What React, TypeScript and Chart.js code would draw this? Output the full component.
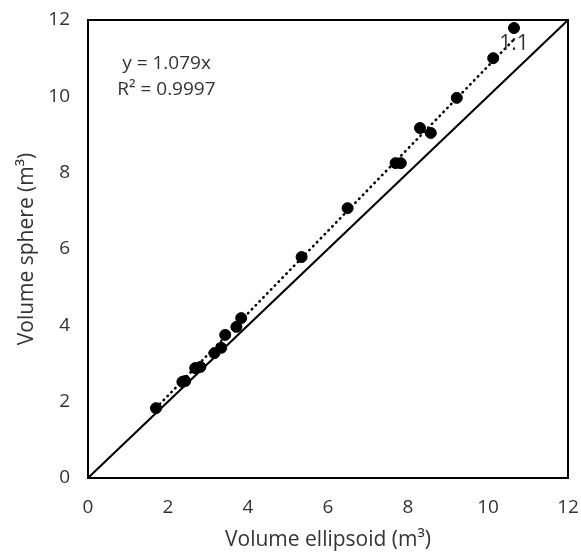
import React, { useEffect, useRef } from "react";
import { Chart, registerables } from "chart.js";

Chart.register(...registerables);

// Data
const ellipsoidVolumes = [1.70, 2.36, 2.43, 2.68, 2.81, 3.16, 3.33, 3.43, 3.71, 3.83, 5.34, 6.49, 7.69, 7.82, 8.30, 8.57, 9.22, 10.13, 10.65];
const sphereVolumes = [1.83, 2.52, 2.54, 2.88, 2.91, 3.27, 3.41, 3.75, 3.96, 4.19, 5.79, 7.07, 8.25, 8.25, 9.17, 9.04, 9.96, 11.00, 11.79];
const trendSlope = 1.079;
const trendRangeX = [1.70, 10.70];
const oneToOneX = [0, 12];
const axisTicks = [0, 2, 4, 6, 8, 10, 12];
const equationLines = ["y = 1.079x", "R² = 0.9997"];
const oneToOneLabel = "1:1";
const xTitle = "Volume ellipsoid (m³)";
const yTitle = "Volume sphere (m³)";

const FONT = "'Open Sans', sans-serif";
const TEXT = "#333333";

export default function App() {
  const ref = useRef<HTMLCanvasElement | null>(null);

  useEffect(() => {
    if (!ref.current) return;
    const points = ellipsoidVolumes.map((x, i) => ({ x, y: sphereVolumes[i] }));
    const trend = trendRangeX.map((x) => ({ x, y: trendSlope * x }));
    const oneToOne = oneToOneX.map((x) => ({ x, y: x }));

    const overlay = {
      id: "overlay",
      afterDatasetsDraw(chart: any) {
        const { ctx, chartArea, scales } = chart;
        ctx.save();
        ctx.strokeStyle = "#000";
        ctx.lineWidth = 2;
        ctx.strokeRect(chartArea.left, chartArea.top, chartArea.right - chartArea.left, chartArea.bottom - chartArea.top);
        ctx.fillStyle = TEXT;
        ctx.font = `19px ${FONT}`;
        ctx.textAlign = "left";
        ctx.textBaseline = "middle";
        const ex = scales.x.getPixelForValue(0.73);
        ctx.fillText(equationLines[0], ex + 5, scales.y.getPixelForValue(10.87));
        ctx.fillText(equationLines[1], ex, scales.y.getPixelForValue(10.17));
        ctx.font = `21px ${FONT}`;
        ctx.textAlign = "center";
        ctx.fillText(oneToOneLabel, scales.x.getPixelForValue(10.65), scales.y.getPixelForValue(11.38));
        ctx.restore();
      },
    };

    const chart = new Chart(ref.current, {
      type: "scatter",
      data: {
        datasets: [
          {
            label: "data",
            data: points,
            backgroundColor: "#000",
            borderColor: "#000",
            borderWidth: 1,
            pointRadius: 5.5,
            order: 0,
          },
          {
            label: "trend",
            type: "line",
            data: trend,
            borderColor: "#000",
            borderWidth: 2.6,
            borderDash: [0.5, 5],
            borderCapStyle: "round",
            pointRadius: 0,
            fill: false,
            order: 1,
          } as any,
          {
            label: "1:1",
            type: "line",
            data: oneToOne,
            borderColor: "#000",
            borderWidth: 2,
            pointRadius: 0,
            fill: false,
            order: 2,
          } as any,
        ],
      },
      options: {
        animation: false,
        responsive: false,
        layout: { padding: { top: 20, right: 13, left: 0, bottom: 0 } },
        plugins: { legend: { display: false }, tooltip: { enabled: false } },
        scales: {
          x: {
            type: "linear",
            min: 0,
            max: 12,
            afterFit: (s: any) => { s.height = 76; s.paddingLeft = 0; s.paddingRight = 0; },
            afterBuildTicks: (s: any) => { s.ticks = axisTicks.map((v) => ({ value: v })); },
            grid: { display: false, drawTicks: false },
            border: { display: true, color: "#000", width: 2 },
            ticks: { padding: 18, color: TEXT, font: { family: FONT, size: 19 } },
            title: { display: true, text: xTitle, color: TEXT, font: { family: FONT, size: 21 }, padding: { top: 0, bottom: 1 } },
          },
          y: {
            type: "linear",
            min: 0,
            max: 12,
            afterFit: (s: any) => { s.width = 88; s.paddingTop = 0; s.paddingBottom = 0; },
            afterBuildTicks: (s: any) => { s.ticks = axisTicks.map((v) => ({ value: v })); },
            grid: { display: false, drawTicks: false },
            border: { display: true, color: "#000", width: 2 },
            ticks: { padding: 18, color: TEXT, font: { family: FONT, size: 19 } },
            title: { display: true, text: yTitle, color: TEXT, font: { family: FONT, size: 21 }, padding: { top: 14, bottom: 0 } },
          },
        },
      },
      plugins: [overlay],
    });
    return () => chart.destroy();
  }, []);

  return (
    <div style={{ position: "fixed", left: 0, top: 0, width: 581, height: 554, background: "#fff" }}>
      <canvas ref={ref} width={581} height={554} style={{ width: 581, height: 554 }} />
    </div>
  );
}
